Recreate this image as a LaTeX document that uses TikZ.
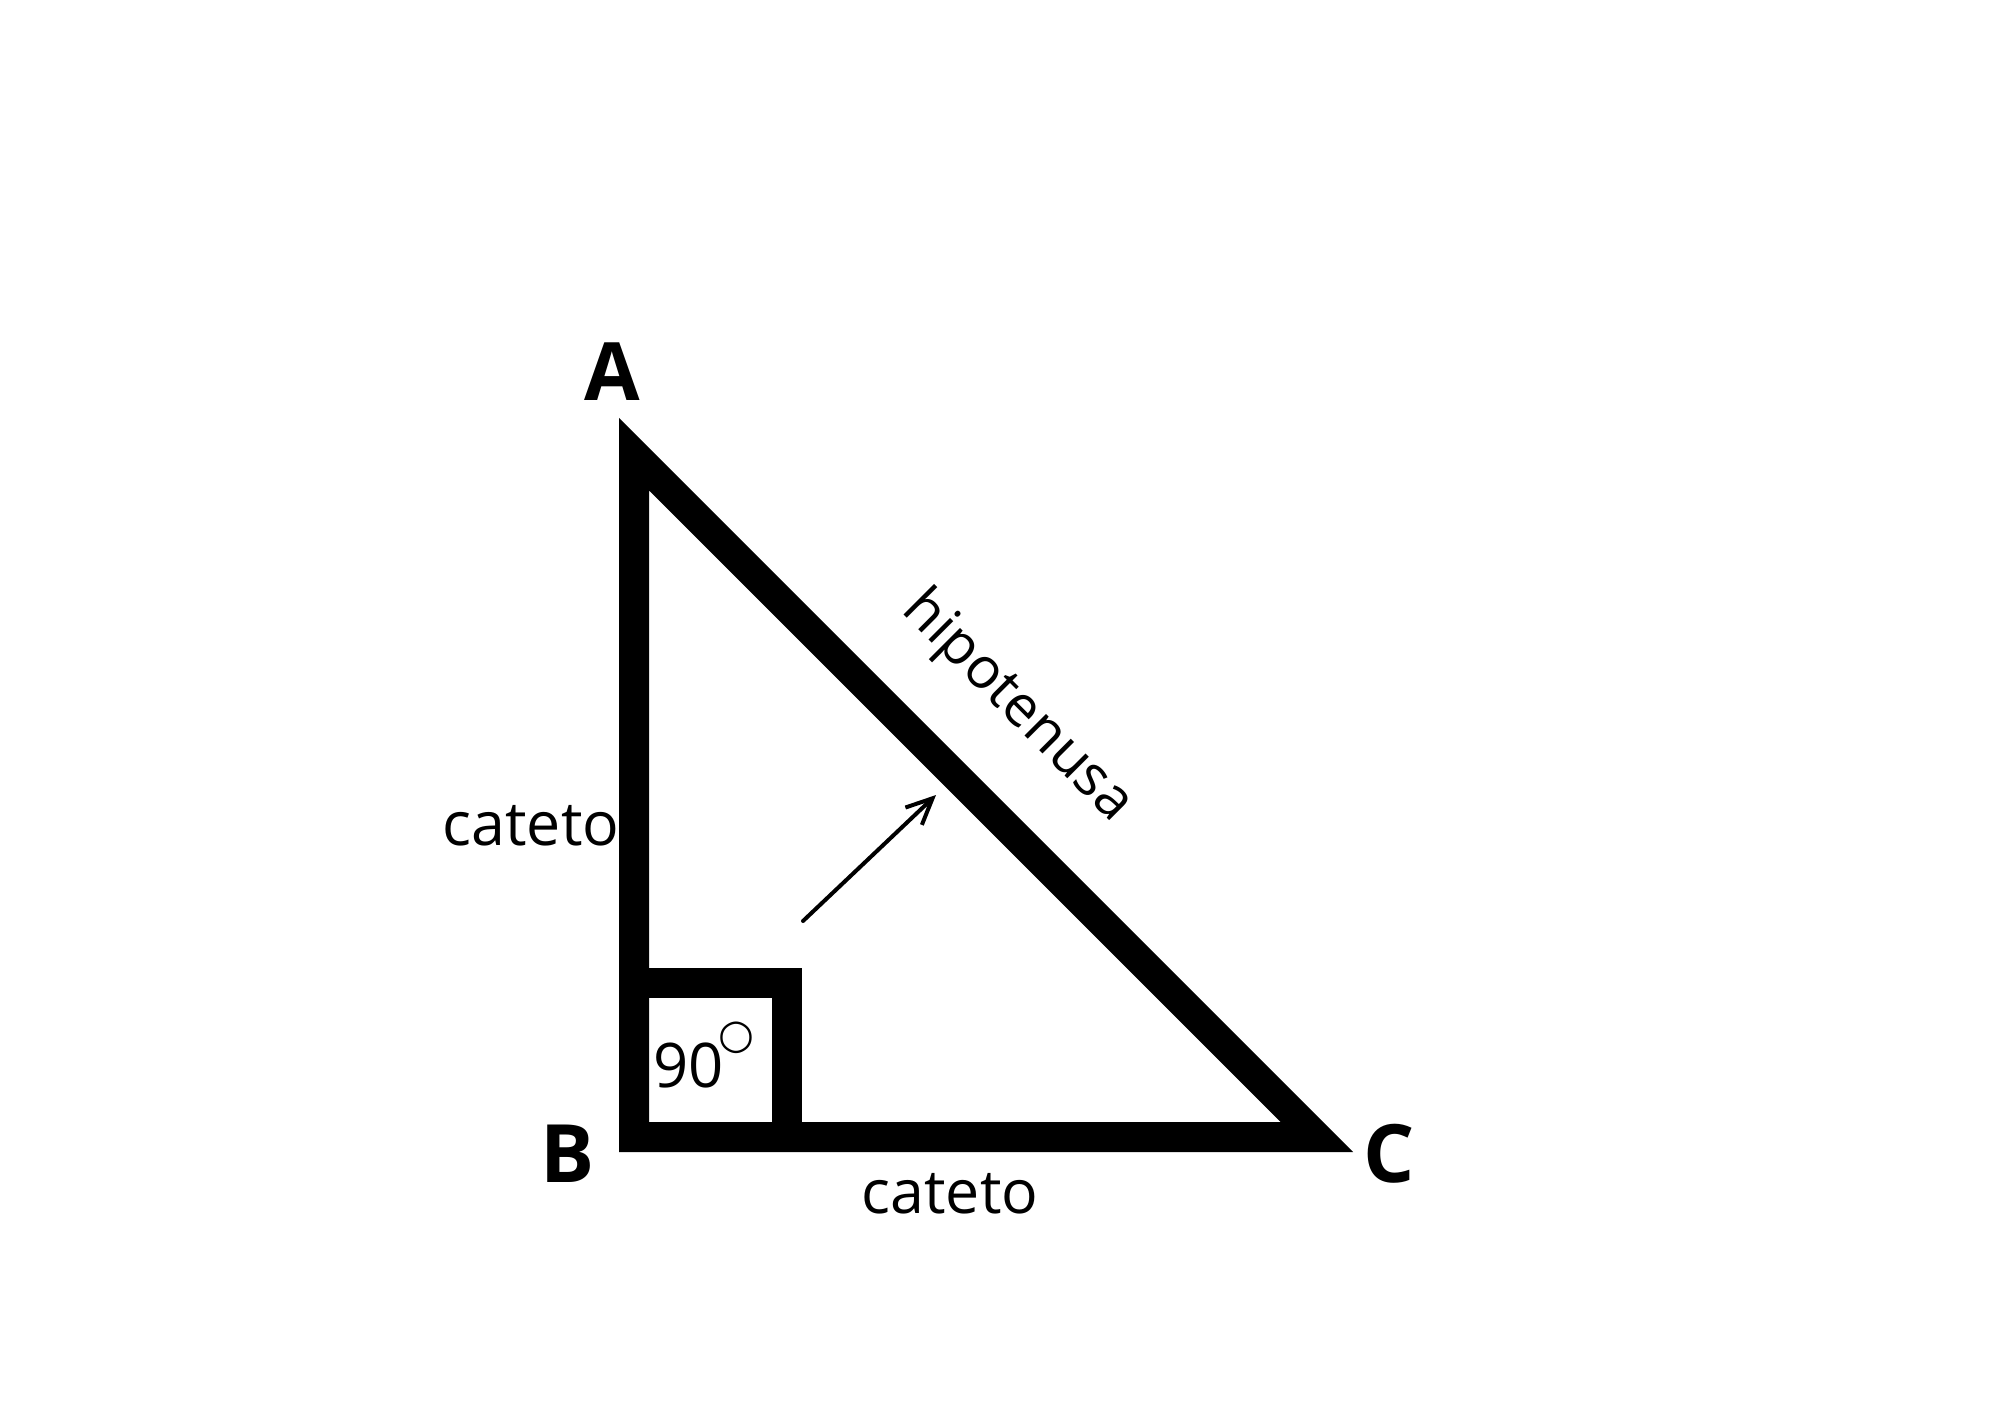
\documentclass[tikz,border=0pt]{standalone}
\usepackage{fontspec}
\setmainfont{Open Sans}
\newfontfamily\symfont{DejaVu Sans}
\usetikzlibrary{arrows.meta}
\tikzset{
  thickline/.style={line width=0.3cm, line join=miter, line cap=butt},
  lbl/.style={inner sep=0pt, font=\fontsize{17.3}{20}\selectfont},
  hiplbl/.style={inner sep=0pt, font=\fontsize{16.2}{19}\selectfont},
  vtx/.style={inner sep=0pt, font=\fontsize{22.9}{27}\selectfont\bfseries},
  pointer/.style={line width=0.04cm, line cap=round, -{Straight Barb[length=7.4pt,width=6.8pt]}}
}
\begin{document}
\begin{tikzpicture}[x=0.01cm,y=-0.01cm]
\useasboundingbox (0,0) rectangle (2000,1414);
\fill[white] (0,0) rectangle (2000,1414);
% triangle vertices (centerline)
\coordinate (pA) at (634,454.2);
\coordinate (pB) at (634,1137);
\coordinate (pC) at (1316.8,1137);
\draw[thickline] (pA) -- (pB) -- (pC) -- cycle;
% right angle mark
\coordinate (q1) at (634,983);
\coordinate (q2) at (787,983);
\coordinate (q3) at (787,1137);
\draw[thickline] (q1) -- (q2) -- (q3);
% labels
\node[vtx, anchor=base] (A) at (612,400) {A};
\node[vtx, anchor=base] (B) at (567.5,1182) {B};
\node[vtx, anchor=base] (C) at (1389.5,1182) {C};
\node[lbl, anchor=base] (cl) at (531,845) {cateto};
\node[lbl, anchor=base] (cb) at (950,1213) {cateto};
\node[hiplbl, anchor=center, rotate=-45] (hip) at (1017,707) {hipotenusa};
\node[inner sep=0pt, font=\fontsize{17.5}{20}\selectfont, anchor=base] (ninety) at (688.5,1087) {90};
\node[inner sep=0pt, font=\fontsize{11.7}{14}\selectfont\symfont, anchor=center] (deg) at (736,1038) {○};
% arrow
\coordinate (s) at (803,921);
\coordinate (t) at (936,795);
\draw[pointer] (s) -- (t);
\end{tikzpicture}
\end{document}
